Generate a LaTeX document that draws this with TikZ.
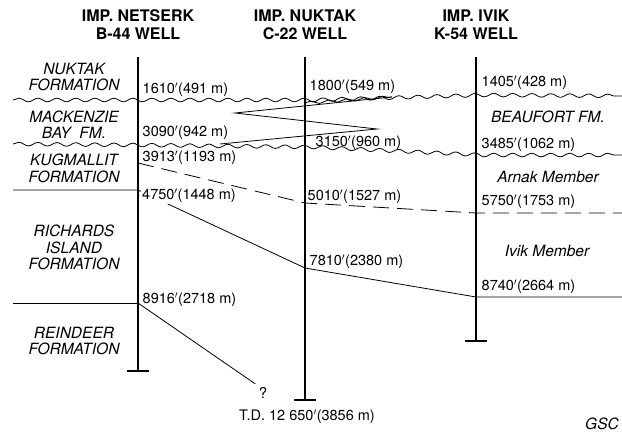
\documentclass[tikz,border=0pt]{standalone}
\usepackage{fontspec}
\setmainfont{TeX Gyre Heros}
\usetikzlibrary{decorations.pathmorphing}
\newcommand\feet{$'$}

\begin{document}
\begin{tikzpicture}[x=1pt,y=-1pt,
  well/.style={line width=2.4pt},
  contact/.style={line width=.8pt},
  wavy/.style={contact,decorate,decoration={snake,segment length=19pt,amplitude=1.8pt}},
  title/.style={align=center,font=\fontsize{16}{18}\selectfont\bfseries},
  fm/.style={align=center,font=\fontsize{15.5}{16.5}\selectfont\itshape},
  depth/.style={anchor=west,inner sep=1.5pt,font=\fontsize{14.5}{15}\selectfont}]

  \useasboundingbox (0,0) rectangle (622,432);

  % wells
  \foreach \n/\x/\b/\one/\two in {net/138/371/IMP. NETSERK/B-44 WELL,
      nuk/305/400/IMP. NUKTAK/C-22 WELL,ivi/476/341/IMP. IVIK/K-54 WELL} {
    \coordinate (\n-top) at (\x,57);
    \coordinate (\n-bot) at (\x,\b);
    \draw[well] (\n-top) -- (\n-bot);
    \draw[well] ([xshift=-11pt]\n-bot) -- ([xshift=11pt]\n-bot);
    \node[title] (\n-name) at (\x,25) {\one\\\two};
  }

  % picks on the wells
  \coordinate (net-a) at (138,100);  \coordinate (nuk-a) at (305,100);  \coordinate (ivi-a) at (476,95);
  \coordinate (net-b) at (138,145);  \coordinate (nuk-b) at (305,147);  \coordinate (ivi-b) at (476,155);
  \coordinate (net-c) at (138,163);  \coordinate (nuk-c) at (305,203);  \coordinate (ivi-c) at (476,213);
  \coordinate (net-d) at (138,190);  \coordinate (nuk-d) at (305,268);  \coordinate (ivi-d) at (476,297);
  \coordinate (net-e) at (138,303);
  \coordinate (west-a) at (13,100);  \coordinate (east-a) at (622,96);
  \coordinate (west-b) at (13,144);  \coordinate (east-b) at (622,155);
  \coordinate (east-c) at (622,213);
  \coordinate (west-d) at (13,190);  \coordinate (east-d) at (622,297);
  \coordinate (west-e) at (13,303);
  \coordinate (tip-a) at (392,97);   \coordinate (tip-b) at (235,113);
  \coordinate (tip-c) at (377,129);  \coordinate (tip-d) at (220,144);
  \coordinate (nuk-a2) at (305,103);

  % contacts
  \draw[wavy] (west-a) -- (net-a) -- (nuk-a) -- (ivi-a) -- (east-a);
  \draw[wavy,decoration={segment length=18pt,amplitude=1.5pt}] (nuk-a2) -- (tip-a);
  \draw[wavy] (west-b) -- (net-b) -- (nuk-b) -- (ivi-b) -- (east-b);
  \draw[contact] (tip-a) -- (tip-b) -- (tip-c) -- (tip-d);
  \draw[contact,dash pattern=on 16pt off 8pt] (net-c) -- (nuk-c) -- (ivi-c) -- (east-c);
  \draw[contact] (west-d) -- (net-d) -- (nuk-d) -- (ivi-d) -- (east-d);
  \draw[contact] (west-e) -- (net-e);
  \node[font=\fontsize{15}{15}\selectfont] (query) at (263,393) {?};
  \draw[contact] (net-e) -- (query.north west);

  % depths
  \foreach \x/\y/\lab in {141/90/1610\feet(491 m),141/133/3090\feet(942 m),141/158/3913\feet(1193 m),
      141/300/8916\feet(2718 m),308/87/1800\feet(549 m),314/143/3150\feet(960 m),
      306/197/5010\feet(1527 m),308/262/7810\feet(2380 m),480/83/1405\feet(428 m),
      480/145/3485\feet(1062 m),480/202/5750\feet(1753 m),480/287/8740\feet(2664 m)}
    \node[depth] at (\x,\y) {\lab};
  \node[depth,fill=white,inner sep=1pt] (net-4750) at (141,196) {4750\feet(1448 m)};
  \node[depth,anchor=center] (nuk-td) at (307,417) {T.D. 12 650\feet(3856 m)};

  % formations
  \node[fm] (nuktak) at (74,77) {NUKTAK\\FORMATION};
  \node[fm] (mackenzie) at (74,124.5) {MACKENZIE\\BAY\ \ FM.};
  \node[fm] (kugmallit) at (74,168.5) {KUGMALLIT\\FORMATION};
  \node[fm] (richards) at (74,247.5) {RICHARDS\\ISLAND\\FORMATION};
  \node[fm] (reindeer) at (74,341) {REINDEER\\FORMATION};
  \node[fm] (beaufort) at (548,117) {BEAUFORT FM.};
  \node[fm] (arnak) at (548,177) {Arnak Member};
  \node[fm] (ivik) at (547,251) {Ivik Member};
  \node[fm,anchor=base,inner sep=0pt] (gsc) at (602,429) {GSC};
\end{tikzpicture}
\end{document}
